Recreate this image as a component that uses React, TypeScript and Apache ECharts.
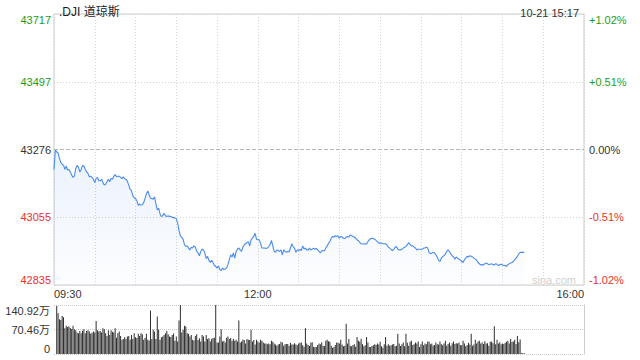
import React, { useEffect, useRef } from "react";
import * as echarts from "echarts";

// previous close (base for % axis)
const BASE = 43275.91;
const SPAN = 441.2; // price half-range of the axis

// price per minute from 09:30 (index = minutes after open)
const PRICES = [
  43211, 43276, 43268, 43265, 43247, 43233, 43228, 43225, 43211, 43222,
  43209, 43211, 43203, 43193, 43185, 43189, 43214, 43224, 43218, 43203,
  43211, 43224, 43222, 43211, 43203, 43198, 43187, 43189, 43185, 43179,
  43168, 43182, 43185, 43174, 43174, 43179, 43168, 43160, 43163, 43171,
  43179, 43171, 43182, 43179, 43189, 43194, 43187, 43189, 43189, 43185,
  43181, 43187, 43181, 43179, 43172, 43160, 43146, 43142, 43125, 43119,
  43116, 43109, 43094, 43099, 43095, 43096, 43103, 43117, 43131, 43141,
  43128, 43117, 43116, 43114, 43122, 43099, 43079, 43085, 43066, 43058,
  43060, 43068, 43060, 43058, 43060, 43058, 43058, 43055, 43054, 43053,
  43051, 43036, 43012, 42995, 42990, 42984, 42966, 42960, 42962, 42955,
  42949, 42958, 42955, 42962, 42958, 42944, 42939, 42930, 42944, 42952,
  42949, 42939, 42921, 42928, 42915, 42908, 42915, 42908, 42899, 42895,
  42890, 42897, 42885, 42882, 42890, 42885, 42887, 42890, 42901, 42917,
  42933, 42926, 42939, 42922, 42944, 42952, 42955, 42949, 42944, 42958,
  42966, 42969, 42973, 42976, 42962, 42982, 42987, 42993, 43003, 42984,
  42982, 42982, 42971, 42955, 42955, 42955, 42954, 42955, 42960, 42966,
  42980, 42962, 42944, 42941, 42949, 42947, 42944, 42949, 42933, 42949,
  42944, 42941, 42944, 42943, 42955, 42969, 42960, 42955, 42941, 42949,
  42947, 42951, 42947, 42962, 42952, 42955, 42949, 42949, 42955, 42949,
  42951, 42955, 42951, 42954, 42949, 42944, 42939, 42946, 42947, 42946,
  42955, 42962, 42971, 42976, 42987, 42993, 42991, 42995, 42993, 42995,
  42987, 42993, 42991, 42987, 42986, 42991, 42993, 42991, 42998, 42995,
  42993, 42991, 42987, 42982, 42979, 42973, 42969, 42968, 42968, 42969,
  42968, 42976, 42982, 42986, 42987, 42986, 42984, 42980, 42976, 42971,
  42971, 42971, 42969, 42969, 42969, 42966, 42958, 42955, 42951, 42947,
  42951, 42958, 42960, 42951, 42949, 42949, 42951, 42955, 42958, 42960,
  42966, 42973, 42966, 42962, 42962, 42958, 42955, 42949, 42951, 42951,
  42951, 42951, 42955, 42955, 42958, 42955, 42941, 42936, 42939, 42941,
  42939, 42933, 42926, 42915, 42911, 42922, 42928, 42930, 42936, 42944,
  42949, 42944, 42936, 42930, 42926, 42919, 42926, 42922, 42919, 42917,
  42911, 42908, 42917, 42922, 42928, 42926, 42930, 42928, 42926, 42922,
  42919, 42915, 42908, 42904, 42900, 42901, 42900, 42904, 42906, 42904,
  42901, 42902, 42904, 42901, 42900, 42904, 42902, 42898, 42901, 42902,
  42900, 42898, 42898, 42895, 42901, 42904, 42906, 42908, 42911, 42917,
  42922, 42928, 42936, 42941, 42941, 42941, 42941,
];

// volume per minute (万), starting at minute VOL_START
const VOL_START = 2;
const VOLUMES = [
  138, 117, 100, 98, 109, 106, 74, 81, 78, 80,
  75, 72, 81, 71, 68, 62, 60, 66, 60, 67,
  71, 60, 66, 68, 65, 58, 61, 65, 62, 95,
  68, 65, 66, 62, 74, 71, 60, 52, 68, 55,
  68, 64, 62, 74, 47, 60, 65, 52, 41, 43,
  48, 43, 50, 52, 41, 55, 43, 60, 48, 46,
  58, 52, 60, 57, 41, 46, 58, 41, 39, 125,
  43, 70, 65, 43, 108, 70, 41, 48, 50, 55,
  60, 66, 57, 50, 49, 55, 59, 38, 50, 36,
  96, 141, 62, 70, 81, 79, 60, 58, 50, 55,
  41, 39, 52, 57, 40, 45, 36, 55, 50, 36,
  55, 43, 45, 36, 43, 46, 47, 141, 33, 33,
  50, 71, 36, 38, 33, 47, 50, 43, 46, 38,
  43, 38, 41, 36, 96, 33, 36, 42, 40, 30,
  43, 41, 40, 70, 36, 40, 27, 41, 36, 33,
  41, 38, 33, 30, 30, 28, 30, 28, 38, 35,
  30, 27, 24, 27, 29, 35, 33, 24, 28, 29,
  29, 24, 32, 27, 27, 31, 27, 25, 30, 32,
  33, 25, 21, 74, 30, 26, 23, 33, 34, 20,
  20, 20, 26, 30, 28, 34, 24, 23, 38, 41,
  37, 35, 24, 18, 20, 26, 33, 32, 30, 41,
  27, 22, 24, 87, 30, 43, 24, 22, 26, 28,
  21, 49, 38, 35, 44, 28, 22, 25, 49, 33,
  20, 20, 23, 25, 28, 26, 30, 27, 35, 22,
  18, 28, 49, 24, 28, 24, 25, 27, 29, 22,
  24, 58, 30, 23, 28, 33, 22, 58, 32, 24,
  35, 38, 26, 28, 33, 30, 36, 20, 28, 36,
  25, 30, 28, 36, 35, 28, 30, 24, 26, 33,
  28, 27, 36, 29, 25, 30, 38, 24, 29, 33,
  24, 31, 36, 29, 31, 30, 33, 26, 25, 38,
  30, 22, 26, 32, 27, 58, 24, 27, 41, 30,
  36, 38, 30, 34, 29, 37, 30, 31, 24, 35,
  36, 31, 80, 28, 41, 30, 34, 28, 30, 29,
  32, 35, 38, 30, 43, 35, 36, 41, 29, 52,
  34, 42, 2, 2, 2,
];

const VOL_MAX = 140.92; // 万
const X_LABEL_MINUTES = [0, 150, 390];
const X_LABELS = ["09:30", "12:00", "16:00"];
const TITLE = ".DJI 道琼斯";
const TIME_TEXT = "10-21 15:17";

const FONT = "'Liberation Sans', Arial, 'Noto Sans CJK SC', sans-serif";
const GREEN = "#1c9e1c";
const RED = "#e8322c";
const DARK = "#333";

export default function App() {
  const ref = useRef<HTMLDivElement>(null);

  useEffect(() => {
    if (!ref.current) return;
    const chart = echarts.init(ref.current, null, { renderer: "svg" });

    const priceData = PRICES.map((p, i) => [i, p - BASE]);
    const volData = VOLUMES.map((v, i) => [i + VOL_START, v]);

    const colorFor = (v: number) => (v > 0.001 ? GREEN : v < -0.001 ? RED : DARK);

    chart.setOption({
      animation: false,
      textStyle: { fontFamily: FONT },
      title: [
        {
          text: TITLE,
          left: 54,
          top: 1,
          textStyle: { fontSize: 12, fontWeight: "normal", color: "#222", fontFamily: FONT },
        },
        {
          text: TIME_TEXT,
          right: 56,
          top: 2,
          textStyle: { fontSize: 11, fontWeight: "normal", color: DARK, fontFamily: FONT },
        },
      ],
      graphic: [
        {
          type: "text",
          left: 532,
          top: 274,
          silent: true,
          style: { text: "sina.com", fill: "#cfcfcf", fontSize: 11, fontFamily: FONT },
        },
      ],
      grid: [
        {
          left: 54,
          top: 14,
          width: 530,
          height: 271,
          show: true,
          borderColor: "#cccccc",
          borderWidth: 1,
          backgroundColor: "transparent",
        },
        { left: 54, top: 305, width: 530, height: 49 },
      ],
      xAxis: [
        {
          gridIndex: 0,
          type: "value",
          min: 0,
          max: 390,
          interval: 30,
          axisLine: { show: false },
          axisTick: { show: false },
          splitLine: { show: true, lineStyle: { color: "#d4d4d4", type: [1, 2], width: 1 } },
          axisLabel: {
            margin: 3,
            fontSize: 11,
            color: DARK,
            fontFamily: FONT,
            showMinLabel: true,
            showMaxLabel: true,
            alignMinLabel: "left",
            alignMaxLabel: "right",
            formatter: (v: number) => {
              const k = X_LABEL_MINUTES.indexOf(Math.round(v));
              return k >= 0 ? X_LABELS[k] : "";
            },
          },
        },
        {
          gridIndex: 1,
          type: "value",
          min: 0,
          max: 390,
          show: false,
        },
      ],
      yAxis: [
        {
          gridIndex: 0,
          type: "value",
          position: "left",
          min: -SPAN,
          max: SPAN,
          interval: SPAN / 2,
          axisLine: { show: false },
          axisTick: { show: false },
          splitLine: { show: true, lineStyle: { color: "#d4d4d4", type: [1, 2] } },
          axisLabel: {
            margin: 3,
            fontSize: 11,
            fontFamily: FONT,
            verticalAlignMaxLabel: "top",
            verticalAlignMinLabel: "bottom",
            formatter: (v: number) => String(Math.round(BASE + v)),
            color: (v: any) => colorFor(Number(v)),
          },
        },
        {
          gridIndex: 0,
          type: "value",
          position: "right",
          min: -SPAN,
          max: SPAN,
          interval: SPAN / 2,
          axisLine: { show: false },
          axisTick: { show: false },
          splitLine: { show: false },
          axisLabel: {
            margin: 5,
            fontSize: 11,
            fontFamily: FONT,
            verticalAlignMaxLabel: "top",
            verticalAlignMinLabel: "bottom",
            formatter: (v: number) => {
              const pct = (v / BASE) * 100;
              const s = Math.abs(pct).toFixed(2) + "%";
              if (Math.abs(v) < 0.001) return "0.00%";
              return (pct > 0 ? "+" : "-") + s;
            },
            color: (v: any) => colorFor(Number(v)),
          },
        },
        {
          gridIndex: 1,
          type: "value",
          position: "left",
          min: 0,
          max: VOL_MAX,
          interval: VOL_MAX / 2,
          axisLine: { show: false },
          axisTick: { show: false },
          splitLine: { show: true, lineStyle: { color: "#c8c8c8", type: [1, 1] } },
          axisLabel: {
            margin: 4,
            fontSize: 11,
            fontFamily: FONT,
            color: DARK,
            verticalAlignMaxLabel: "top",
            verticalAlignMinLabel: "bottom",
            formatter: (v: number) => (v === 0 ? "0" : v.toFixed(2) + "万"),
          },
        },
        {
          gridIndex: 1,
          type: "value",
          position: "right",
          min: 0,
          max: VOL_MAX,
          interval: VOL_MAX / 2,
          axisLine: { show: true, lineStyle: { color: "#cccccc" } },
          axisTick: { show: false },
          axisLabel: { show: false },
          splitLine: { show: false },
        },
      ],
      series: [
        {
          type: "line",
          xAxisIndex: 0,
          yAxisIndex: 0,
          data: priceData,
          showSymbol: false,
          symbol: "none",
          lineStyle: { color: "#4a8cec", width: 1.1 },
          areaStyle: {
            origin: "start",
            color: new echarts.graphic.LinearGradient(0, 0, 0, 1, [
              { offset: 0, color: "rgba(80,140,230,0.16)" },
              { offset: 1, color: "rgba(80,140,230,0.02)" },
            ]),
          },
          markLine: {
            silent: true,
            symbol: "none",
            label: { show: false },
            lineStyle: { color: "#b5b5b5", type: [4, 2], width: 1 },
            data: [{ yAxis: 0 }],
          },
        },
        {
          type: "bar",
          xAxisIndex: 1,
          yAxisIndex: 2,
          data: volData,
          barWidth: 1,
          itemStyle: { color: "#2e2e2e" },
        },
      ],
    });

    return () => chart.dispose();
  }, []);

  return (
    <div
      ref={ref}
      style={{ position: "fixed", left: 0, top: 0, width: 640, height: 360, background: "#fff" }}
    />
  );
}
